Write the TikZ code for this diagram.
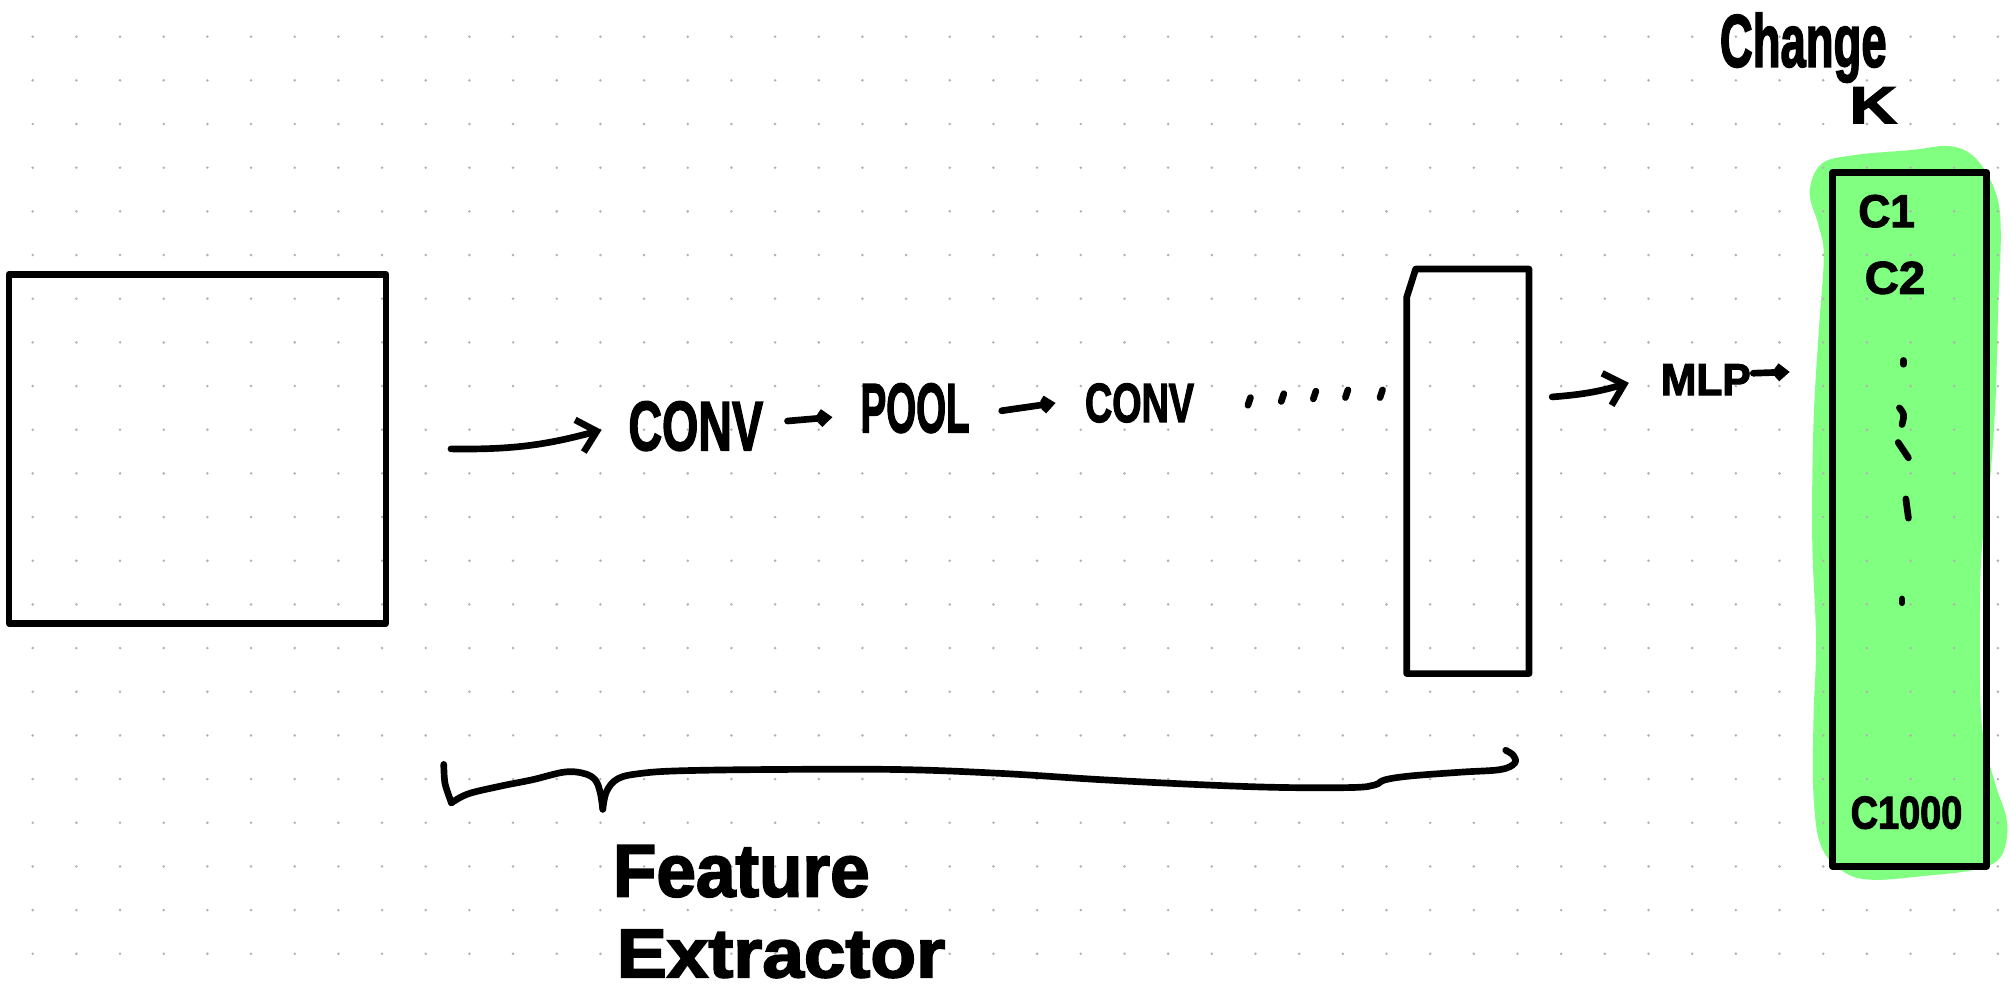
\documentclass[tikz,border=0pt]{standalone}
\usepackage{fontspec}
\setmainfont{Liberation Sans}
\newfontfamily\handfont{Liberation Sans Bold}[FakeBold=2.5]
\usepackage{graphicx}
\usetikzlibrary{arrows.meta}

\definecolor{marker}{RGB}{128,255,128}
\definecolor{griddot}{RGB}{178,178,178}

% hand-lettered label: width, cap height, text
\newcommand{\handtext}[3]{\resizebox{#1pt}{#2pt}{\handfont #3}}

\tikzset{
  ink/.style={line width=5.2pt, line cap=round, line join=round},
  box/.style={draw, ink, rectangle, inner sep=0pt},
  ghost/.style={rectangle, inner sep=0pt},
  lbl/.style={inner sep=0pt, outer sep=0pt, anchor=base west},
  bigarrow/.style={ink, -{Straight Barb[length=14pt,width=26pt]}},
  smallarrow/.style={ink, -{Straight Barb[length=6pt,width=10pt]}},
}

\begin{document}
\begin{tikzpicture}[x=1pt,y=-1pt]
  \useasboundingbox (0,0) rectangle (1568,774);
  \fill[white] (0,0) rectangle (1568,774);

  % highlighter stroke behind the class column
  \fill[marker] plot[smooth cycle, tension=0.6] coordinates {
    (1411,150) (1420,128) (1445,121) (1490,117) (1521,114) (1541,124)
    (1556,150) (1560,180) (1558,240) (1556,310) (1552,370) (1546,420)
    (1544,460) (1544,540) (1547,578) (1556,612) (1565,642) (1560,668)
    (1540,678) (1500,683) (1460,686) (1438,680) (1420,660) (1414,620)
    (1414,560) (1416,500) (1413,420) (1414,330) (1418,260) (1422,200)
    (1418,176)};

  % dotted paper
  \foreach \i in {0,...,45}
    \foreach \j in {0,...,21}
      \fill[griddot] (25.5+34.05*\i, 28.6+34.05*\j) circle (1.1);

  % input image
  \node[box, minimum width=294pt, minimum height=272pt] (img) at (154,350) {};

  % feature map with clipped corner
  \node[ghost, minimum width=95pt, minimum height=315pt] (fmap) at (1144.5,367.5) {};
  \draw[ink] (fmap.south west) -- ([yshift=-22pt]fmap.north west)
    -- ([xshift=7pt]fmap.north west) -- (fmap.north east)
    -- (fmap.south east) -- cycle;

  % class scores column
  \node[box, minimum width=120pt, minimum height=541pt] (cls) at (1489,405) {};

  % pipeline labels
  \node[lbl] (conv1) at (490,351) {\handtext{105}{38}{CONV}};
  \node[lbl] (pool)  at (671,337) {\handtext{85}{38}{POOL}};
  \node[lbl] (conv2) at (846,329) {\handtext{85}{30}{CONV}};
  \node[lbl] (mlp)   at (1295,308) {\handtext{70}{24}{MLP}};

  % class labels
  \node[lbl] (c1)    at (1449,177) {\handtext{44}{25}{C1}};
  \node[lbl] (c2)    at (1454,229) {\handtext{47}{25}{C2}};
  \node[lbl] (c1000) at (1443,646) {\handtext{87}{25}{C1000}};

  \node[lbl] (change) at (1341,52) {\handtext{130}{42}{Change}};
  \node[lbl] (kval)   at (1442,96) {\handtext{37}{28}{K}};

  \node[lbl] (feat) at (478,699) {\handtext{200}{40}{Feature}};
  \node[lbl] (extr) at (481,762) {\handtext{256}{37}{Extractor}};

  % connectors
  \draw[bigarrow] ([xshift=48pt]img.east) to[bend right=8]
    ([xshift=-21pt,yshift=-3pt]conv1.west);
  \draw[smallarrow] ([xshift=19pt,yshift=4pt]conv1.east)
    -- ([xshift=-22pt,yshift=-7pt]pool.west);
  \draw[smallarrow] ([xshift=25pt,yshift=-2pt]pool.east)
    -- ([xshift=-23pt]conv2.west);
  \draw[bigarrow] ([xshift=18pt,yshift=58pt]fmap.east) to[bend right=6]
    ([xshift=-25pt,yshift=-2.5pt]mlp.west);
  \draw[smallarrow] ([xshift=2pt,yshift=5pt]mlp.east)
    -- ([xshift=-31pt,yshift=115pt]cls.west);

  % trailing dots after the second conv
  \foreach \x/\y in {974/313, 1000/310, 1025/308, 1050/307, 1077/307}
    \draw[ink] (\x-1,\y+3) -- (\x+1,\y-3);

  % vertical ellipsis between the classes
  \draw[ink] (1484,281) -- (1484,284);
  \draw[ink] (1481,318) .. controls (1485,323) .. (1483,331);
  \draw[ink] (1480,345) -- (1488,357);
  \draw[ink] (1486,389) -- (1488,404);
  \draw[ink] (1483,467) -- (1483,470);

  % brace under the extractor stages
  \draw[ink] plot[smooth, tension=0.5] coordinates {
    (346,596) (347,611) (352,626)};
  \draw[ink] plot[smooth, tension=0.6] coordinates {
    (352,626) (365,619) (390,613) (415,608) (440,602) (455,603) (464,608)
    (468,618) (470,631)};
  \draw[ink] plot[smooth, tension=0.6] coordinates {
    (470,631) (473,617) (482,607) (500,603) (530,601) (600,600) (700,600)
    (780,603) (860,608) (940,612) (1000,614) (1055,614) (1072,612)
    (1080,608) (1100,605) (1140,602) (1170,600) (1181,595) (1180,589)
    (1174,585)};
\end{tikzpicture}
\end{document}
